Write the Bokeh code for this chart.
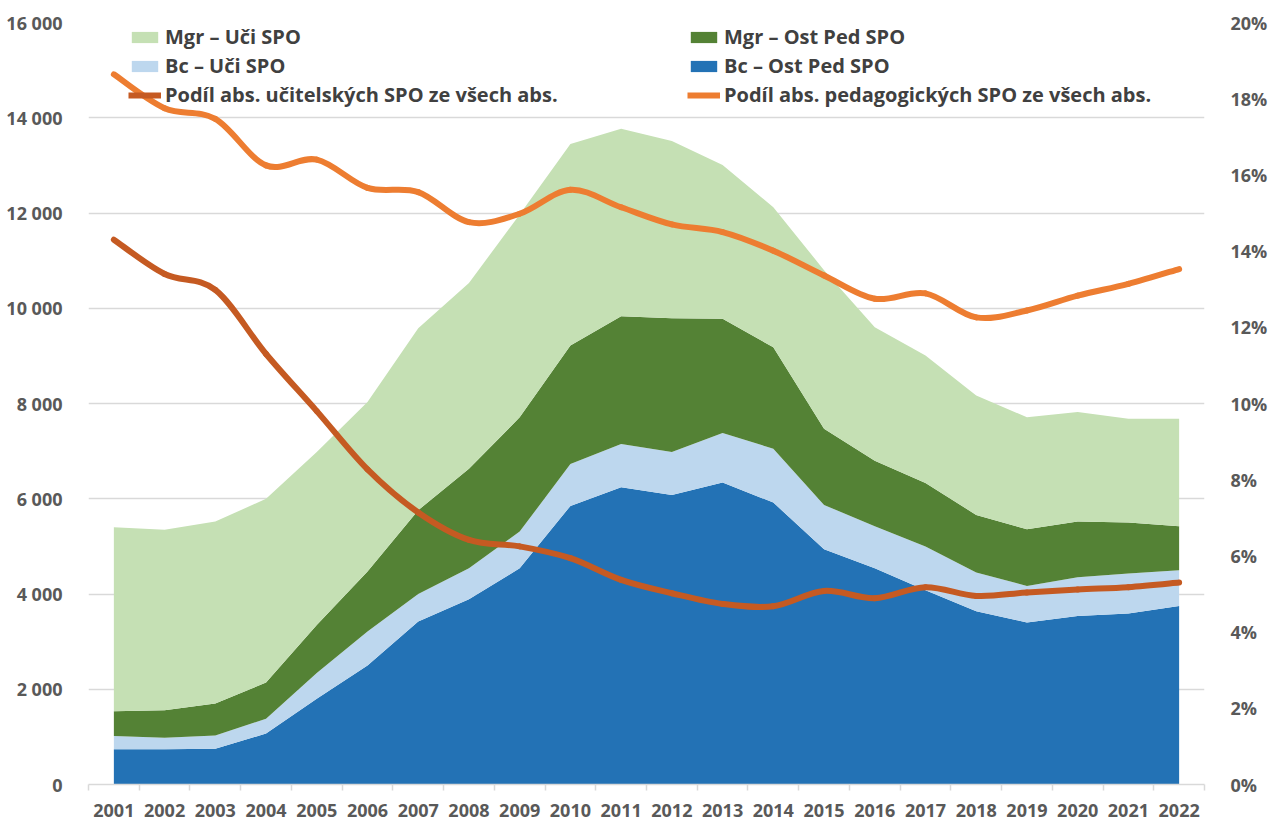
from bokeh.plotting import figure
from bokeh.models import (ColumnDataSource, Range1d, LinearAxis, FixedTicker,
                          Legend, LegendItem)
from bokeh.embed import file_html
from bokeh.resources import INLINE

# ---------------- data ----------------
years = list(range(2001, 2023))
bc_ost = [740, 740, 750, 1070, 1800, 2500, 3420, 3890, 4540, 5850, 6240,
          6080, 6340, 5920, 4940, 4540, 4080, 3640, 3400, 3540, 3590, 3750]
bc_uci = [280, 240, 280, 310, 540, 710, 580, 650, 770, 880, 910,
          900, 1040, 1130, 930, 880, 920, 810, 770, 810, 840, 750]
mgr_ost = [520, 580, 670, 760, 1010, 1260, 1760, 2090, 2400, 2490, 2680,
           2810, 2400, 2130, 1600, 1380, 1330, 1210, 1190, 1170, 1070, 920]
mgr_uci = [3860, 3790, 3820, 3860, 3630, 3560, 3820, 3900, 4260, 4230, 3940,
           3720, 3230, 2940, 3330, 2800, 2680, 2510, 2350, 2300, 2180, 2260]
podil_uci = [14.30, 13.40, 12.98, 11.30, 9.80, 8.27, 7.14, 6.42, 6.25, 5.94, 5.37,
             5.02, 4.74, 4.68, 5.08, 4.89, 5.18, 4.95, 5.04, 5.12, 5.18, 5.30]
podil_ped = [18.64, 17.75, 17.47, 16.25, 16.40, 15.66, 15.55, 14.76, 14.98, 15.61, 15.15,
             14.70, 14.50, 14.01, 13.36, 12.75, 12.89, 12.26, 12.44, 12.83, 13.14, 13.53]

series_names = ["Mgr – Uči SPO", "Mgr – Ost Ped SPO", "Bc – Uči SPO", "Bc – Ost Ped SPO",
                "Podíl abs. učitelských SPO ze všech abs.",
                "Podíl abs. pedagogických SPO ze všech abs."]

left_ticks = [0, 2000, 4000, 6000, 8000, 10000, 12000, 14000, 16000]
left_labels = ["0", "2 000", "4 000", "6 000", "8 000", "10 000", "12 000", "14 000", "16 000"]
pct_ticks = [0, 2, 4, 6, 8, 10, 12, 14, 16, 18, 20]
pct_labels = ["0%", "2%", "4%", "6%", "8%", "10%", "12%", "14%", "16%", "18%", "20%"]

# ---------------- styles ----------------
C_MGR_UCI = "#c5e0b4"
C_MGR_OST = "#548235"
C_BC_UCI = "#bdd7ee"
C_BC_OST = "#2372b5"
C_UCI_LINE = "#c55a22"
C_PED_LINE = "#ed7d31"
FONT = "Open Sans"
TICK_COLOR = "#595959"
W, H = 1270, 821
B_LEFT, B_RIGHT, B_TOP, B_BOTTOM = 88, 58, 22, 37

src = ColumnDataSource(dict(year=years, bc_ost=bc_ost, bc_uci=bc_uci,
                            mgr_ost=mgr_ost, mgr_uci=mgr_uci))

p = figure(width=W, height=H, x_range=Range1d(2000.5, 2022.5),
           y_range=Range1d(0, 16000), output_backend="svg", toolbar_location=None,
           min_border_left=B_LEFT, min_border_right=B_RIGHT, min_border_top=B_TOP,
           min_border_bottom=B_BOTTOM)
p.outline_line_color = None
p.background_fill_color = "white"
p.extra_y_ranges = {"pct": Range1d(0, 20)}

areas = p.varea_stack(stackers=["bc_ost", "bc_uci", "mgr_ost", "mgr_uci"], x="year",
                      color=[C_BC_OST, C_BC_UCI, C_MGR_OST, C_MGR_UCI], source=src)
r_bc_ost, r_bc_uci, r_mgr_ost, r_mgr_uci = areas


def smooth(xs, ys):
    n = len(xs)
    d = dict(x0=[], y0=[], x1=[], y1=[], cx0=[], cy0=[], cx1=[], cy1=[])
    for i in range(n - 1):
        i0 = max(i - 1, 0)
        i3 = min(i + 2, n - 1)
        d["x0"].append(xs[i]); d["y0"].append(ys[i])
        d["x1"].append(xs[i + 1]); d["y1"].append(ys[i + 1])
        d["cx0"].append(xs[i] + (xs[i + 1] - xs[i0]) / 6)
        d["cy0"].append(ys[i] + (ys[i + 1] - ys[i0]) / 6)
        d["cx1"].append(xs[i + 1] - (xs[i3] - xs[i]) / 6)
        d["cy1"].append(ys[i + 1] - (ys[i3] - ys[i]) / 6)
    return ColumnDataSource(d)


p.bezier(x0="x0", y0="y0", x1="x1", y1="y1", cx0="cx0", cy0="cy0", cx1="cx1", cy1="cy1",
         source=smooth(years, podil_uci), line_color=C_UCI_LINE, line_width=6,
         line_cap="round", y_range_name="pct")
p.bezier(x0="x0", y0="y0", x1="x1", y1="y1", cx0="cx0", cy0="cy0", cx1="cx1", cy1="cy1",
         source=smooth(years, podil_ped), line_color=C_PED_LINE, line_width=6,
         line_cap="round", y_range_name="pct")

# legend proxies (a single NaN point: draws nothing, only the legend swatch)
nan = float("nan")
leg_uci = p.line(x=[years[0]], y=[nan], line_color=C_UCI_LINE, line_width=6,
                 y_range_name="pct")
leg_ped = p.line(x=[years[0]], y=[nan], line_color=C_PED_LINE, line_width=6,
                 y_range_name="pct")

# axes
p.xaxis.ticker = FixedTicker(ticks=years, minor_ticks=[y + 0.5 for y in range(2000, 2023)])
p.xaxis.axis_line_color = "#d9d9d9"
p.xaxis.axis_line_width = 1.5
p.xaxis.major_tick_out = 0
p.xaxis.major_tick_in = 0
p.xaxis.minor_tick_out = 6
p.xaxis.minor_tick_in = 0
p.xaxis.minor_tick_line_color = "#d9d9d9"
p.xaxis.minor_tick_line_width = 1.5
p.xaxis.major_label_standoff = 13
p.xaxis.major_label_text_font = FONT
p.xaxis.major_label_text_font_style = "bold"
p.xaxis.major_label_text_font_size = "18px"
p.xaxis.major_label_text_color = TICK_COLOR

p.yaxis.ticker = FixedTicker(ticks=left_ticks)
p.yaxis.major_label_overrides = dict(zip(left_ticks, left_labels))
p.yaxis.axis_line_color = None
p.yaxis.major_tick_line_color = None
p.yaxis.minor_tick_line_color = None
p.yaxis.major_label_standoff = 20
p.yaxis.major_label_text_font = FONT
p.yaxis.major_label_text_font_style = "bold"
p.yaxis.major_label_text_font_size = "18px"
p.yaxis.major_label_text_color = TICK_COLOR

raxis = LinearAxis(y_range_name="pct", ticker=FixedTicker(ticks=pct_ticks),
                   major_label_overrides=dict(zip(pct_ticks, pct_labels)))
raxis.axis_line_color = None
raxis.major_tick_line_color = None
raxis.minor_tick_line_color = None
raxis.major_label_standoff = 20
raxis.major_label_text_font = FONT
raxis.major_label_text_font_style = "bold"
raxis.major_label_text_font_size = "18px"
raxis.major_label_text_color = TICK_COLOR
p.add_layout(raxis, "right")

p.xgrid.grid_line_color = None
p.ygrid.ticker = FixedTicker(ticks=left_ticks)
p.ygrid.grid_line_color = "#d9d9d9"
p.ygrid.grid_line_width = 1.5

# legends
ROW_H, SP = 27, 2
def make_legend(items, loc):
    return Legend(items=items, location=loc, orientation="vertical",
                  background_fill_alpha=0, border_line_color=None,
                  padding=0, margin=0, spacing=SP, glyph_width=33, glyph_height=14,
                  label_height=20, label_standoff=4,
                  label_text_font=FONT, label_text_font_style="bold",
                  label_text_font_size="20px", label_text_color="#404040")

frame_h = H - B_TOP - B_BOTTOM
leg_h = 3 * ROW_H + 2 * SP
vy = frame_h - 1 - leg_h
l1 = make_legend([LegendItem(label=series_names[0], renderers=[r_mgr_uci]),
                  LegendItem(label=series_names[2], renderers=[r_bc_uci]),
                  LegendItem(label=series_names[4], renderers=[leg_uci])],
                 (40, vy))
l2 = make_legend([LegendItem(label=series_names[1], renderers=[r_mgr_ost]),
                  LegendItem(label=series_names[3], renderers=[r_bc_ost]),
                  LegendItem(label=series_names[5], renderers=[leg_ped])],
                 (599, vy))
p.add_layout(l1, "center")
p.add_layout(l2, "center")

open("out.html", "w").write(file_html(p, INLINE))
